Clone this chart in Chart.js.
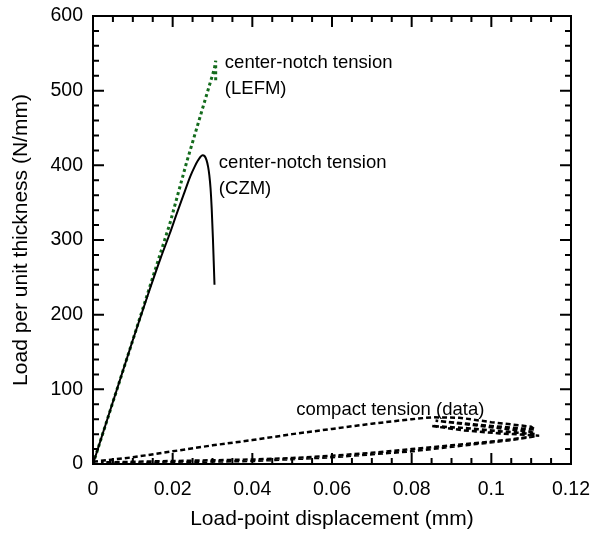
<!DOCTYPE html>
<html>
<head>
<meta charset="utf-8">
<script src="https://cdn.jsdelivr.net/npm/chart.js@4.4.0/dist/chart.umd.min.js"></script>
<style>
  html, body { margin: 0; padding: 0; background: #ffffff; }
  #wrap { width: 591px; height: 554px; }
</style>
</head>
<body>
<div id="wrap"><canvas id="c" width="591" height="554"></canvas></div>
<script>
// ---- data ----
const xTickLabels = ['0', '0.02', '0.04', '0.06', '0.08', '0.1', '0.12'];
const yTickLabels = ['0', '100', '200', '300', '400', '500', '600'];

const lefmX = [0, 0.0100, 0.0193, 0.0235, 0.0305, 0.0308, 0.0308];
const lefmY = [0, 166, 322, 404, 530, 540, 512];

const czmX = [0, 0.010, 0.014, 0.017, 0.0193, 0.0210, 0.0227, 0.0244, 0.0255, 0.0263, 0.0270, 0.0275, 0.0280, 0.0285, 0.0289, 0.0292, 0.0295, 0.0298, 0.0301, 0.0303, 0.0305];
const czmY = [0, 166, 230, 276, 309, 335, 360, 385, 398, 406, 411.5, 413.5, 412.5, 407, 398, 387, 370, 342, 303, 272, 240];

// compact tension: loading branch, unload/reload cycles, return branch, reload branch
const ctX = [0.000, 0.005, 0.010, 0.020, 0.030, 0.040, 0.050, 0.060, 0.070, 0.080, 0.085,
             0.092, 0.100, 0.110,
             0.111, 0.100, 0.092, 0.086,
             0.094, 0.102, 0.110,
             0.111, 0.102, 0.094, 0.085,
             0.093, 0.102, 0.112,
             0.105, 0.100, 0.090, 0.080, 0.070, 0.060, 0.050, 0.040, 0.030, 0.020, 0.010, 0.002,
             0.010, 0.020, 0.040, 0.060, 0.080, 0.095, 0.105, 0.111];
const ctY = [3, 6, 9, 17, 25, 32, 40, 47, 54, 60, 62.5,
             62, 56, 50,
             46, 51, 55, 58,
             53, 48, 43,
             40, 44, 48, 51,
             45, 41, 38,
             33, 30, 25, 20, 15, 11, 8, 6, 5, 4, 3, 2,
             1.5, 2.5, 4, 9, 17, 26, 32, 37];

const labelLEFM = ['center-notch tension', '(LEFM)'];
const labelCZM = ['center-notch tension', '(CZM)'];
const labelCT = 'compact tension (data)';

const xTitle = 'Load-point displacement (mm)';
const yTitle = 'Load per unit thickness (N/mm)';

function pts(xs, ys) { return xs.map((x, i) => ({ x: x, y: ys[i] })); }

const FONT = '"Liberation Sans", Arial, Helvetica, sans-serif';

const framePlugin = {
  id: 'frame',
  afterDraw(chart) {
    const ctx = chart.ctx;
    const xs = chart.scales.x, ys = chart.scales.y;
    const a = chart.chartArea;
    ctx.save();
    ctx.strokeStyle = '#000';
    ctx.lineWidth = 2;
    ctx.strokeRect(a.left, a.top, a.right - a.left, a.bottom - a.top);
    const nx = Math.round((xs.max - xs.min) / 0.005);
    for (let i = 0; i <= nx; i++) {
      const px = xs.getPixelForValue(xs.min + i * 0.005);
      const len = (i % 4 === 0) ? 11 : 6;
      ctx.beginPath();
      ctx.moveTo(px, a.bottom); ctx.lineTo(px, a.bottom - len);
      ctx.moveTo(px, a.top); ctx.lineTo(px, a.top + len);
      ctx.stroke();
    }
    const ny = Math.round((ys.max - ys.min) / 20);
    for (let i = 0; i <= ny; i++) {
      const py = ys.getPixelForValue(ys.min + i * 20);
      const len = (i % 5 === 0) ? 11 : 6;
      ctx.beginPath();
      ctx.moveTo(a.left, py); ctx.lineTo(a.left + len, py);
      ctx.moveTo(a.right, py); ctx.lineTo(a.right - len, py);
      ctx.stroke();
    }
    ctx.fillStyle = '#000';
    ctx.font = '18.5px ' + FONT;
    ctx.textAlign = 'left';
    ctx.textBaseline = 'middle';
    ctx.fillText(labelLEFM[0], xs.getPixelForValue(0.0331), ys.getPixelForValue(537));
    ctx.fillText(labelLEFM[1], xs.getPixelForValue(0.0331), ys.getPixelForValue(502));
    ctx.fillText(labelCZM[0], xs.getPixelForValue(0.0316), ys.getPixelForValue(403));
    ctx.fillText(labelCZM[1], xs.getPixelForValue(0.0316), ys.getPixelForValue(369));
    ctx.fillText(labelCT, xs.getPixelForValue(0.0510), ys.getPixelForValue(73));
    ctx.restore();
  }
};

new Chart(document.getElementById('c'), {
  type: 'scatter',
  data: {
    datasets: [
      { label: 'compact tension (data)', data: pts(ctX, ctY), showLine: true, borderColor: '#000', borderWidth: 2.5, borderDash: [5, 3], pointRadius: 0, fill: false, tension: 0 },
      { label: 'CZM', data: pts(czmX, czmY), showLine: true, borderColor: '#000', borderWidth: 2, pointRadius: 0, fill: false, cubicInterpolationMode: 'monotone' },
      { label: 'LEFM', data: pts(lefmX, lefmY), showLine: true, borderColor: '#136b1c', borderWidth: 3, borderDash: [3, 3], pointRadius: 0, fill: false, tension: 0 }
    ]
  },
  options: {
    responsive: false,
    animation: false,
    layout: { padding: { left: 0, top: 16, right: 20, bottom: 0 } },
    plugins: { legend: { display: false }, tooltip: { enabled: false } },
    scales: {
      x: {
        type: 'linear', min: 0, max: 0.12,
        grid: { display: false, drawTicks: false },
        border: { display: false },
        afterFit(s) { s.height = 90; s.paddingLeft = 0; s.paddingRight = 0; },
        afterBuildTicks(s) { s.ticks = xTickLabels.map(t => ({ value: parseFloat(t) })); },
        ticks: { color: '#000', font: { size: 19.5, family: FONT }, padding: 14, maxRotation: 0,
                 callback: (v, i) => xTickLabels[i] },
        title: { display: true, text: xTitle, color: '#000', font: { size: 21, family: FONT }, padding: { top: 0, bottom: 22 } }
      },
      y: {
        type: 'linear', min: 0, max: 600,
        grid: { display: false, drawTicks: false },
        border: { display: false },
        afterFit(s) { s.width = 93; s.paddingTop = 0; s.paddingBottom = 0; },
        afterBuildTicks(s) { s.ticks = yTickLabels.map(t => ({ value: parseFloat(t) })); },
        ticks: { color: '#000', font: { size: 19.5, family: FONT }, padding: 10,
                 callback: (v, i) => yTickLabels[i] },
        title: { display: true, text: yTitle, color: '#000', font: { size: 21, family: FONT }, padding: { top: 9, bottom: 0 } }
      }
    }
  },
  plugins: [framePlugin]
});
</script>
</body>
</html>
